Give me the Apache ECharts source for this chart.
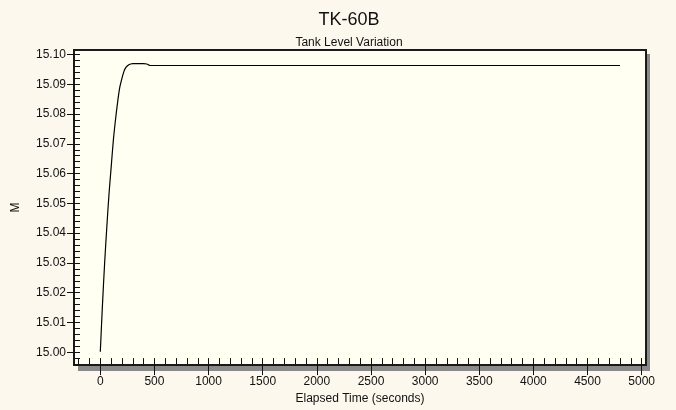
<!DOCTYPE html>
<html>
<head>
<meta charset="utf-8">
<title>TK-60B</title>
<script src="https://cdn.jsdelivr.net/npm/echarts@6/dist/echarts.min.js"></script>
<style>
  html, body { margin: 0; padding: 0; background: #fdf8ee; }
  #chart { width: 676px; height: 410px; }
</style>
</head>
<body>
<div id="chart"></div>
<script>
const times = [0, 20, 40, 60, 80, 100, 120, 140, 160, 180, 200, 220, 240, 260, 280, 300, 350, 400, 430, 445, 460, 4800]
const levels = [15.0002, 15.016, 15.030, 15.042, 15.053, 15.062, 15.071, 15.078, 15.084, 15.089, 15.092, 15.0945, 15.0958, 15.0965, 15.0968, 15.0969, 15.0969, 15.0969, 15.0968, 15.0965, 15.0963, 15.0963]

const xTickLabels = [0, 500, 1000, 1500, 2000, 2500, 3000, 3500, 4000, 4500, 5000]
const yTickLabels = [15.00, 15.01, 15.02, 15.03, 15.04, 15.05, 15.06, 15.07, 15.08, 15.09, 15.10]

const xRange = [-243, 5040]
const yRange = [14.9957, 15.1015]

function steps(from, to, step, digits) {
  const out = []
  for (let v = from; v <= to + step / 2; v += step) out.push(+v.toFixed(digits))
  return out
}
const xMinor = steps(-200, 5000, 100, 0)
const yMinor = steps(14.996, 15.100, 0.002, 3)

const font = 'Liberation Sans, Arial, sans-serif'
const ink = '#111'
const plot = { left: 74, right: 30, top: 50, bottom: 43 }

const chart = echarts.init(document.getElementById('chart'))

chart.setOption({
  backgroundColor: '#fdf8ee',
  animation: false,
  title: [{
    text: 'TK-60B',
    left: 344,
    top: 6,
    textAlign: 'center',
    textStyle: { fontFamily: font, fontSize: 18, fontWeight: 'normal', color: ink }
  }, {
    text: 'Tank Level Variation',
    left: 344,
    top: 32,
    textAlign: 'center',
    textStyle: { fontFamily: font, fontSize: 12, fontWeight: 'normal', color: ink }
  }],
  grid: [{
    // drop shadow behind the plot box
    show: true,
    left: plot.left + 4,
    right: plot.right - 4,
    top: plot.top + 4,
    bottom: plot.bottom - 4,
    backgroundColor: '#8a8a8a',
    borderWidth: 0
  }, {
    show: true,
    left: plot.left,
    right: plot.right,
    top: plot.top,
    bottom: plot.bottom,
    backgroundColor: '#fffff2',
    borderColor: '#1a1a1a',
    borderWidth: 2
  }],
  xAxis: [{
    type: 'value',
    gridIndex: 1,
    min: xRange[0],
    max: xRange[1],
    name: 'Elapsed Time (seconds)',
    nameLocation: 'middle',
    nameGap: 26,
    nameTextStyle: { fontFamily: font, fontSize: 12, color: ink },
    axisLine: { show: false, onZero: false },
    splitLine: { show: false },
    axisTick: { show: true, inside: false, length: 10, customValues: xTickLabels, lineStyle: { color: ink } },
    axisLabel: { margin: 11, fontFamily: font, fontSize: 12, color: ink, customValues: xTickLabels, formatter: v => String(v) }
  }, {
    type: 'value',
    gridIndex: 1,
    position: 'bottom',
    min: xRange[0],
    max: xRange[1],
    axisLine: { show: false, onZero: false },
    splitLine: { show: false },
    axisLabel: { show: false },
    axisTick: { show: true, inside: true, length: 7, customValues: xMinor, lineStyle: { color: ink } }
  }],
  yAxis: [{
    type: 'value',
    gridIndex: 1,
    min: yRange[0],
    max: yRange[1],
    name: 'M',
    nameLocation: 'middle',
    nameGap: 52,
    nameTextStyle: { fontFamily: font, fontSize: 12, color: ink },
    axisLine: { show: false, onZero: false },
    splitLine: { show: false },
    axisTick: { show: true, inside: false, length: 7, customValues: yTickLabels, lineStyle: { color: ink } },
    axisLabel: {
      margin: 8,
      fontFamily: font,
      fontSize: 12,
      color: ink,
      customValues: yTickLabels,
      formatter: v => v.toFixed(2)
    }
  }, {
    type: 'value',
    gridIndex: 1,
    position: 'left',
    min: yRange[0],
    max: yRange[1],
    axisLine: { show: false, onZero: false },
    splitLine: { show: false },
    axisLabel: { show: false },
    axisTick: { show: true, inside: true, length: 6, customValues: yMinor, lineStyle: { color: ink } }
  }],
  series: [{
    name: 'Tank Level',
    type: 'line',
    xAxisIndex: 0,
    yAxisIndex: 0,
    showSymbol: false,
    smooth: 0.3,
    lineStyle: { color: '#000', width: 1.2 },
    data: times.map((t, i) => [t, levels[i]])
  }]
})
</script>
</body>
</html>
